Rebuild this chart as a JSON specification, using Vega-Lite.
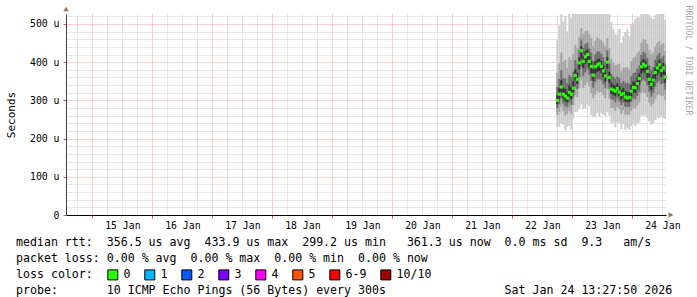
{
  "$schema": "https://vega.github.io/schema/vega-lite/v6.json",
  "width": 600,
  "height": 201,
  "autosize": "none",
  "padding": {"left": 66, "top": 14, "right": 31, "bottom": 82},
  "background": "white",
  "config": {"view": {"stroke": null}, "font": "DejaVu Sans Mono"},
  "title": {
    "text": [
      "median rtt:\u00a0\u00a0356.5 us avg\u00a0\u00a0433.9 us max\u00a0\u00a0299.2 us min\u00a0\u00a0\u00a0361.3 us now\u00a0\u00a00.0 ms sd\u00a0\u00a09.3\u00a0\u00a0\u00a0am/s",
      "packet loss: 0.00 % avg\u00a0\u00a00.00 % max\u00a0\u00a00.00 % min\u00a0\u00a00.00 % now",
      "loss color:",
      "probe:\u00a0\u00a0\u00a0\u00a0\u00a0\u00a0\u00a010 ICMP Echo Pings (56 Bytes) every 300s\u00a0\u00a0\u00a0\u00a0\u00a0\u00a0\u00a0\u00a0\u00a0\u00a0\u00a0\u00a0\u00a0\u00a0\u00a0\u00a0\u00a0Sat Jan 24 13:27:50 2026"
    ],
    "orient": "bottom",
    "anchor": "start",
    "frame": "group",
    "dx": -50,
    "dy": -48,
    "offset": 3,
    "font": "DejaVu Sans Mono",
    "fontSize": 11.6,
    "fontWeight": "normal",
    "color": "#000000",
    "lineHeight": 16,
    "align": "left",
    "baseline": "top"
  },
  "data": {
    "values": [
      {"t": "2026-01-22T18:00", "med": 300, "lo1": 230, "hi1": 460, "lo2": 261, "hi2": 372, "lo3": 279, "hi3": 335, "lo4": 290, "hi4": 314},
      {"t": "2026-01-22T18:48", "med": 316, "lo1": 231, "hi1": 496, "lo2": 269, "hi2": 397, "lo3": 290, "hi3": 356, "lo4": 304, "hi4": 332},
      {"t": "2026-01-22T19:36", "med": 335, "lo1": 240, "hi1": 535, "lo2": 283, "hi2": 425, "lo3": 306, "hi3": 379, "lo4": 322, "hi4": 353},
      {"t": "2026-01-22T20:24", "med": 316, "lo1": 236, "hi1": 506, "lo2": 272, "hi2": 402, "lo3": 292, "hi3": 358, "lo4": 305, "hi4": 333},
      {"t": "2026-01-22T21:12", "med": 311, "lo1": 221, "hi1": 521, "lo2": 261, "hi2": 406, "lo3": 284, "hi3": 357, "lo4": 298, "hi4": 330},
      {"t": "2026-01-22T22:00", "med": 306, "lo1": 231, "hi1": 481, "lo2": 265, "hi2": 385, "lo3": 283, "hi3": 345, "lo4": 295, "hi4": 322},
      {"t": "2026-01-22T22:48", "med": 321, "lo1": 233, "hi1": 526, "lo2": 273, "hi2": 413, "lo3": 295, "hi3": 366, "lo4": 309, "hi4": 339},
      {"t": "2026-01-22T23:36", "med": 316, "lo1": 224, "hi1": 516, "lo2": 265, "hi2": 406, "lo3": 288, "hi3": 360, "lo4": 303, "hi4": 334},
      {"t": "2026-01-23T00:24", "med": 332, "lo1": 252, "hi1": 527, "lo2": 288, "hi2": 420, "lo3": 308, "hi3": 375, "lo4": 321, "hi4": 350},
      {"t": "2026-01-23T01:12", "med": 365, "lo1": 270, "hi1": 545, "lo2": 313, "hi2": 446, "lo3": 336, "hi3": 405, "lo4": 352, "hi4": 381},
      {"t": "2026-01-23T02:00", "med": 355, "lo1": 270, "hi1": 540, "lo2": 308, "hi2": 438, "lo3": 329, "hi3": 396, "lo4": 343, "hi4": 372},
      {"t": "2026-01-23T02:48", "med": 398, "lo1": 278, "hi1": 548, "lo2": 332, "hi2": 466, "lo3": 362, "hi3": 431, "lo4": 381, "hi4": 412},
      {"t": "2026-01-23T03:36", "med": 430, "lo1": 290, "hi1": 560, "lo2": 353, "hi2": 489, "lo3": 388, "hi3": 459, "lo4": 410, "hi4": 442},
      {"t": "2026-01-23T04:24", "med": 402, "lo1": 277, "hi1": 562, "lo2": 333, "hi2": 474, "lo3": 364, "hi3": 437, "lo4": 384, "hi4": 416},
      {"t": "2026-01-23T05:12", "med": 414, "lo1": 279, "hi1": 564, "lo2": 340, "hi2": 482, "lo3": 373, "hi3": 447, "lo4": 395, "hi4": 428},
      {"t": "2026-01-23T06:00", "med": 420, "lo1": 290, "hi1": 560, "lo2": 348, "hi2": 483, "lo3": 381, "hi3": 451, "lo4": 402, "hi4": 433},
      {"t": "2026-01-23T06:48", "med": 402, "lo1": 284, "hi1": 557, "lo2": 337, "hi2": 472, "lo3": 367, "hi3": 436, "lo4": 385, "hi4": 416},
      {"t": "2026-01-23T07:36", "med": 389, "lo1": 261, "hi1": 554, "lo2": 319, "hi2": 463, "lo3": 351, "hi3": 425, "lo4": 371, "hi4": 404},
      {"t": "2026-01-23T08:24", "med": 366, "lo1": 256, "hi1": 536, "lo2": 305, "hi2": 443, "lo3": 333, "hi3": 403, "lo4": 351, "hi4": 381},
      {"t": "2026-01-23T09:12", "med": 388, "lo1": 256, "hi1": 538, "lo2": 315, "hi2": 456, "lo3": 348, "hi3": 421, "lo4": 370, "hi4": 402},
      {"t": "2026-01-23T10:00", "med": 393, "lo1": 267, "hi1": 553, "lo2": 324, "hi2": 465, "lo3": 355, "hi3": 428, "lo4": 375, "hi4": 407},
      {"t": "2026-01-23T10:48", "med": 396, "lo1": 258, "hi1": 541, "lo2": 320, "hi2": 461, "lo3": 355, "hi3": 428, "lo4": 377, "hi4": 409},
      {"t": "2026-01-23T11:36", "med": 389, "lo1": 267, "hi1": 539, "lo2": 322, "hi2": 457, "lo3": 352, "hi3": 422, "lo4": 372, "hi4": 403},
      {"t": "2026-01-23T12:24", "med": 377, "lo1": 262, "hi1": 542, "lo2": 314, "hi2": 451, "lo3": 342, "hi3": 413, "lo4": 361, "hi4": 392},
      {"t": "2026-01-23T13:12", "med": 364, "lo1": 259, "hi1": 534, "lo2": 306, "hi2": 441, "lo3": 332, "hi3": 401, "lo4": 349, "hi4": 379},
      {"t": "2026-01-23T14:00", "med": 400, "lo1": 270, "hi1": 540, "lo2": 328, "hi2": 463, "lo3": 361, "hi3": 431, "lo4": 382, "hi4": 413},
      {"t": "2026-01-23T14:48", "med": 360, "lo1": 260, "hi1": 530, "lo2": 305, "hi2": 437, "lo3": 330, "hi3": 397, "lo4": 346, "hi4": 375},
      {"t": "2026-01-23T15:36", "med": 330, "lo1": 240, "hi1": 505, "lo2": 280, "hi2": 409, "lo3": 303, "hi3": 369, "lo4": 317, "hi4": 346},
      {"t": "2026-01-23T16:24", "med": 327, "lo1": 242, "hi1": 487, "lo2": 280, "hi2": 399, "lo3": 301, "hi3": 362, "lo4": 315, "hi4": 341},
      {"t": "2026-01-23T17:12", "med": 324, "lo1": 229, "hi1": 474, "lo2": 272, "hi2": 392, "lo3": 295, "hi3": 357, "lo4": 311, "hi4": 338},
      {"t": "2026-01-23T18:00", "med": 331, "lo1": 243, "hi1": 471, "lo2": 283, "hi2": 394, "lo3": 305, "hi3": 362, "lo4": 319, "hi4": 344},
      {"t": "2026-01-23T18:48", "med": 322, "lo1": 240, "hi1": 487, "lo2": 277, "hi2": 396, "lo3": 297, "hi3": 358, "lo4": 311, "hi4": 337},
      {"t": "2026-01-23T19:36", "med": 315, "lo1": 225, "hi1": 450, "lo2": 265, "hi2": 376, "lo3": 288, "hi3": 345, "lo4": 302, "hi4": 327},
      {"t": "2026-01-23T20:24", "med": 318, "lo1": 238, "hi1": 468, "lo2": 274, "hi2": 386, "lo3": 294, "hi3": 351, "lo4": 307, "hi4": 332},
      {"t": "2026-01-23T21:12", "med": 309, "lo1": 223, "hi1": 479, "lo2": 262, "hi2": 386, "lo3": 283, "hi3": 346, "lo4": 297, "hi4": 324},
      {"t": "2026-01-23T22:00", "med": 306, "lo1": 228, "hi1": 486, "lo2": 263, "hi2": 387, "lo3": 283, "hi3": 346, "lo4": 295, "hi4": 322},
      {"t": "2026-01-23T22:48", "med": 308, "lo1": 224, "hi1": 468, "lo2": 262, "hi2": 380, "lo3": 283, "hi3": 343, "lo4": 296, "hi4": 322},
      {"t": "2026-01-23T23:36", "med": 324, "lo1": 232, "hi1": 499, "lo2": 273, "hi2": 403, "lo3": 296, "hi3": 363, "lo4": 311, "hi4": 340},
      {"t": "2026-01-24T00:24", "med": 334, "lo1": 238, "hi1": 504, "lo2": 281, "hi2": 411, "lo3": 305, "hi3": 371, "lo4": 321, "hi4": 349},
      {"t": "2026-01-24T01:12", "med": 333, "lo1": 233, "hi1": 513, "lo2": 278, "hi2": 414, "lo3": 303, "hi3": 373, "lo4": 319, "hi4": 349},
      {"t": "2026-01-24T02:00", "med": 344, "lo1": 239, "hi1": 519, "lo2": 286, "hi2": 423, "lo3": 312, "hi3": 383, "lo4": 329, "hi4": 360},
      {"t": "2026-01-24T02:48", "med": 357, "lo1": 242, "hi1": 517, "lo2": 294, "hi2": 429, "lo3": 322, "hi3": 392, "lo4": 341, "hi4": 371},
      {"t": "2026-01-24T03:36", "med": 388, "lo1": 260, "hi1": 528, "lo2": 318, "hi2": 451, "lo3": 350, "hi3": 419, "lo4": 370, "hi4": 401},
      {"t": "2026-01-24T04:24", "med": 395, "lo1": 260, "hi1": 540, "lo2": 321, "hi2": 460, "lo3": 354, "hi3": 427, "lo4": 376, "hi4": 408},
      {"t": "2026-01-24T05:12", "med": 390, "lo1": 260, "hi1": 540, "lo2": 318, "hi2": 458, "lo3": 351, "hi3": 423, "lo4": 372, "hi4": 404},
      {"t": "2026-01-24T06:00", "med": 376, "lo1": 254, "hi1": 536, "lo2": 309, "hi2": 448, "lo3": 339, "hi3": 411, "lo4": 359, "hi4": 390},
      {"t": "2026-01-24T06:48", "med": 355, "lo1": 245, "hi1": 525, "lo2": 294, "hi2": 432, "lo3": 322, "hi3": 392, "lo4": 340, "hi4": 370},
      {"t": "2026-01-24T07:36", "med": 342, "lo1": 237, "hi1": 517, "lo2": 284, "hi2": 421, "lo3": 310, "hi3": 381, "lo4": 327, "hi4": 358},
      {"t": "2026-01-24T08:24", "med": 353, "lo1": 241, "hi1": 513, "lo2": 291, "hi2": 425, "lo3": 319, "hi3": 388, "lo4": 337, "hi4": 367},
      {"t": "2026-01-24T09:12", "med": 373, "lo1": 248, "hi1": 523, "lo2": 304, "hi2": 441, "lo3": 335, "hi3": 406, "lo4": 355, "hi4": 387},
      {"t": "2026-01-24T10:00", "med": 385, "lo1": 255, "hi1": 530, "lo2": 313, "hi2": 450, "lo3": 346, "hi3": 417, "lo4": 367, "hi4": 398},
      {"t": "2026-01-24T10:48", "med": 393, "lo1": 253, "hi1": 533, "lo2": 316, "hi2": 456, "lo3": 351, "hi3": 424, "lo4": 373, "hi4": 406},
      {"t": "2026-01-24T11:36", "med": 378, "lo1": 258, "hi1": 528, "lo2": 312, "hi2": 446, "lo3": 342, "hi3": 411, "lo4": 361, "hi4": 392},
      {"t": "2026-01-24T12:24", "med": 385, "lo1": 253, "hi1": 530, "lo2": 312, "hi2": 450, "lo3": 345, "hi3": 417, "lo4": 367, "hi4": 398},
      {"t": "2026-01-24T13:12", "med": 361, "lo1": 251, "hi1": 511, "lo2": 300, "hi2": 429, "lo3": 328, "hi3": 394, "lo4": 346, "hi4": 375}
    ]
  },
  "layer": [
    {
      "mark": {"type": "rule", "strokeWidth": 2, "color": "#cccccc", "clip": true},
      "encoding": {
        "x": {
          "field": "t", "type": "temporal",
          "scale": {"domain": [{"year": 2026, "month": 1, "date": 14, "hours": 13, "minutes": 27, "seconds": 50}, {"year": 2026, "month": 1, "date": 24, "hours": 13, "minutes": 27, "seconds": 50}], "nice": false},
          "axis": {
            "title": "RRDTOOL / TOBI OETIKER",
            "titleAngle": 90,
            "titleX": 621,
            "titleY": -210,
            "titleAlign": "left",
            "titleBaseline": "middle",
            "titleFont": "DejaVu Sans Mono",
            "titleFontSize": 8.3,
            "titleFontWeight": "normal",
            "titleColor": "#aaaaaa",
            "tickCount": 200,
            "values": [
              {"year": 2026, "month": 1, "date": 14, "hours": 18},
              {"year": 2026, "month": 1, "date": 15, "hours": 0}, {"year": 2026, "month": 1, "date": 15, "hours": 6}, {"year": 2026, "month": 1, "date": 15, "hours": 12}, {"year": 2026, "month": 1, "date": 15, "hours": 18},
              {"year": 2026, "month": 1, "date": 16, "hours": 0}, {"year": 2026, "month": 1, "date": 16, "hours": 6}, {"year": 2026, "month": 1, "date": 16, "hours": 12}, {"year": 2026, "month": 1, "date": 16, "hours": 18},
              {"year": 2026, "month": 1, "date": 17, "hours": 0}, {"year": 2026, "month": 1, "date": 17, "hours": 6}, {"year": 2026, "month": 1, "date": 17, "hours": 12}, {"year": 2026, "month": 1, "date": 17, "hours": 18},
              {"year": 2026, "month": 1, "date": 18, "hours": 0}, {"year": 2026, "month": 1, "date": 18, "hours": 6}, {"year": 2026, "month": 1, "date": 18, "hours": 12}, {"year": 2026, "month": 1, "date": 18, "hours": 18},
              {"year": 2026, "month": 1, "date": 19, "hours": 0}, {"year": 2026, "month": 1, "date": 19, "hours": 6}, {"year": 2026, "month": 1, "date": 19, "hours": 12}, {"year": 2026, "month": 1, "date": 19, "hours": 18},
              {"year": 2026, "month": 1, "date": 20, "hours": 0}, {"year": 2026, "month": 1, "date": 20, "hours": 6}, {"year": 2026, "month": 1, "date": 20, "hours": 12}, {"year": 2026, "month": 1, "date": 20, "hours": 18},
              {"year": 2026, "month": 1, "date": 21, "hours": 0}, {"year": 2026, "month": 1, "date": 21, "hours": 6}, {"year": 2026, "month": 1, "date": 21, "hours": 12}, {"year": 2026, "month": 1, "date": 21, "hours": 18},
              {"year": 2026, "month": 1, "date": 22, "hours": 0}, {"year": 2026, "month": 1, "date": 22, "hours": 6}, {"year": 2026, "month": 1, "date": 22, "hours": 12}, {"year": 2026, "month": 1, "date": 22, "hours": 18},
              {"year": 2026, "month": 1, "date": 23, "hours": 0}, {"year": 2026, "month": 1, "date": 23, "hours": 6}, {"year": 2026, "month": 1, "date": 23, "hours": 12}, {"year": 2026, "month": 1, "date": 23, "hours": 18},
              {"year": 2026, "month": 1, "date": 24, "hours": 0}, {"year": 2026, "month": 1, "date": 24, "hours": 6}, {"year": 2026, "month": 1, "date": 24, "hours": 12}
            ],
            "labelExpr": "hours(datum.value) == 12 ? timeFormat(datum.value, '%d %b') : ''",
            "labelOverlap": false,
            "labelFlush": false,
            "labelFont": "DejaVu Sans Mono",
            "labelFontSize": 9.8,
            "labelColor": "#000000",
            "labelPadding": 2,
            "tickSize": 3,
            "tickColor": {"condition": {"test": "hours(datum.value) == 0", "value": "#de5151"}, "value": "transparent"},
            "grid": true,
            "gridColor": {"condition": {"test": "hours(datum.value) == 0", "value": "#eba2a2"}, "value": "#cfcfcf"},
            "gridDash": [1, 1],
            "gridWidth": 1,
            "domainColor": "#000000",
            "domainWidth": 1
          }
        },
        "y": {
          "field": "lo1", "type": "quantitative",
          "scale": {"domain": [0, 526], "nice": false},
          "axis": {
            "title": "Seconds",
            "tickCount": 200,
            "values": [0, 20, 40, 60, 80, 100, 120, 140, 160, 180, 200, 220, 240, 260, 280, 300, 320, 340, 360, 380, 400, 420, 440, 460, 480, 500, 520],
            "labelExpr": "datum.value % 100 == 0 ? (datum.value == 0 ? '0' : datum.value + ' u') : ''",
            "labelOverlap": false,
            "labelFont": "DejaVu Sans Mono",
            "labelFontSize": 9.8,
            "labelColor": "#000000",
            "labelPadding": 4,
            "tickSize": 3,
            "tickColor": {"condition": {"test": "datum.value % 100 == 0", "value": "#de5151"}, "value": "transparent"},
            "grid": true,
            "gridColor": {"condition": {"test": "datum.value % 100 == 0", "value": "#eba2a2"}, "value": "#cfcfcf"},
            "gridDash": [1, 1],
            "gridWidth": 1,
            "domainColor": "#404040",
            "titleFont": "DejaVu Sans Mono",
            "titleFontSize": 11,
            "titleFontWeight": "normal",
            "titleColor": "#000000",
            "titlePadding": 13
          }
        },
        "y2": {"field": "hi1"}
      }
    },
    {
      "mark": {"type": "rule", "strokeWidth": 2, "color": "#a4a4a4", "clip": true},
      "encoding": {
        "x": {"field": "t", "type": "temporal"},
        "y": {"field": "lo2", "type": "quantitative"},
        "y2": {"field": "hi2"}
      }
    },
    {
      "mark": {"type": "rule", "strokeWidth": 2, "color": "#6c6c6c", "clip": true},
      "encoding": {
        "x": {"field": "t", "type": "temporal"},
        "y": {"field": "lo3", "type": "quantitative"},
        "y2": {"field": "hi3"}
      }
    },
    {
      "mark": {"type": "rule", "strokeWidth": 2, "color": "#303030", "clip": true},
      "encoding": {
        "x": {"field": "t", "type": "temporal"},
        "y": {"field": "lo4", "type": "quantitative"},
        "y2": {"field": "hi4"}
      }
    },
    {
      "mark": {"type": "point", "shape": "square", "filled": true, "size": 10, "opacity": 1},
      "encoding": {
        "x": {"field": "t", "type": "temporal"},
        "y": {"field": "med", "type": "quantitative"},
        "color": {
          "datum": "0", "type": "nominal",
          "scale": {"domain": ["0", "1", "2", "3", "4", "5", "6-9", "10/10"], "range": ["#26ff00", "#00b8ff", "#0059ff", "#7e00ff", "#ff00ff", "#ff5500", "#ff0000", "#a10000"]},
          "legend": {
            "orient": "none", "legendX": 41, "legendY": 255,
            "direction": "horizontal", "columns": 8, "title": null,
            "symbolType": "square", "symbolSize": 100,
            "symbolStrokeColor": "#000000", "symbolStrokeWidth": 1, "symbolOpacity": 1,
            "labelFont": "DejaVu Sans Mono", "labelFontSize": 11.6, "labelColor": "#000000",
            "labelOffset": 5, "columnPadding": 11, "padding": 0, "rowPadding": 0
          }
        }
      }
    },
    {
      "data": {"values": [{}]},
      "mark": {"type": "point", "shape": "triangle-right", "filled": true, "size": 30, "color": "#803129", "xOffset": 5, "clip": false},
      "encoding": {
        "x": {"datum": {"year": 2026, "month": 1, "date": 24, "hours": 13, "minutes": 27, "seconds": 50}, "type": "temporal"},
        "y": {"datum": 0, "type": "quantitative"}
      }
    },
    {
      "data": {"values": [{}]},
      "mark": {"type": "point", "shape": "triangle-up", "filled": true, "size": 30, "color": "#803129", "yOffset": -5, "clip": false},
      "encoding": {
        "x": {"datum": {"year": 2026, "month": 1, "date": 14, "hours": 13, "minutes": 27, "seconds": 50}, "type": "temporal"},
        "y": {"datum": 526, "type": "quantitative"}
      }
    }
  ]
}
